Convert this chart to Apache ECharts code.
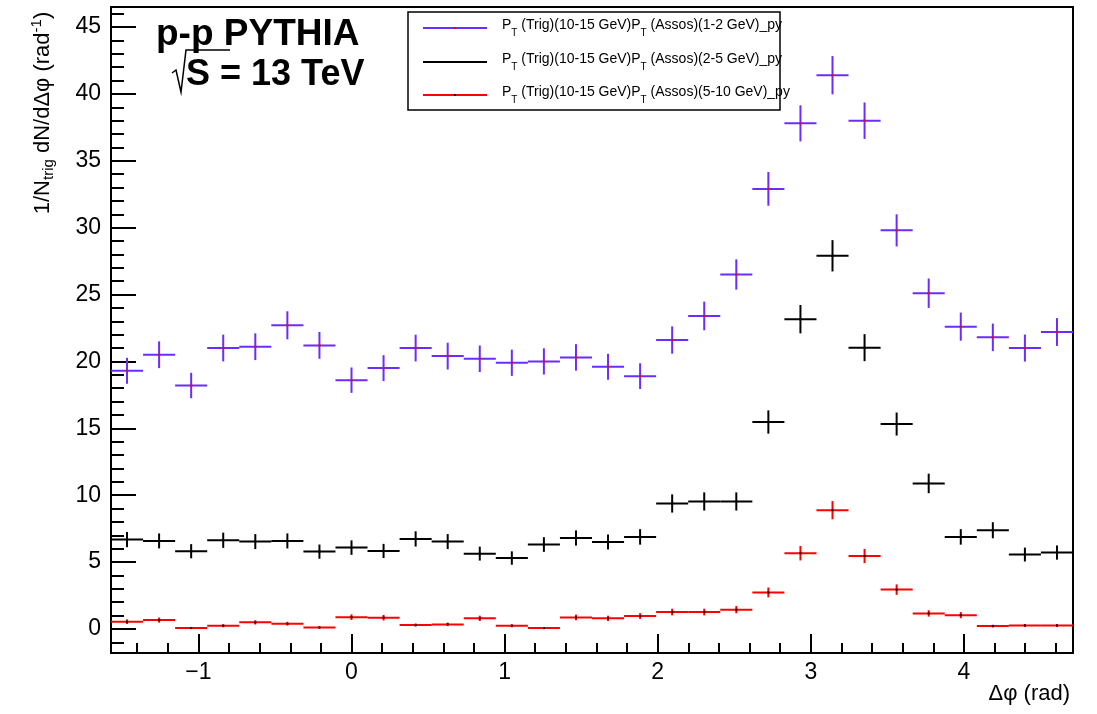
<!DOCTYPE html>
<html>
<head>
<meta charset="utf-8">
<title>Delta-phi correlation, p-p PYTHIA 13 TeV</title>
<script src="https://cdn.jsdelivr.net/npm/echarts@6/dist/echarts.min.js"></script>
<style>
  html, body { margin: 0; padding: 0; background: #ffffff; }
  #chart { width: 1097px; height: 714px; }
</style>
</head>
<body>
<div id="chart"></div>
<script>
// Bin centres of the 30 delta-phi bins spanning [-pi/2, 3pi/2]
const binCenters = [-1.4661, -1.2566, -1.0472, -0.8378, -0.6283, -0.4189, -0.2094, 0.0000,
  0.2094, 0.4189, 0.6283, 0.8378, 1.0472, 1.2566, 1.4661, 1.6755, 1.8850, 2.0944,
  2.3038, 2.5133, 2.7227, 2.9322, 3.1416, 3.3510, 3.5605, 3.7699, 3.9794, 4.1888,
  4.3982, 4.6077];
const binWidth = 0.20944;

// Associated pT 1-2 GeV
const assoc12 = [19.3, 20.5, 18.2, 21.0, 21.1, 22.7, 21.2, 18.6, 19.5, 21.0, 20.4, 20.2,
  19.9, 20.0, 20.3, 19.6, 18.9, 21.6, 23.4, 26.5, 32.9, 37.8, 41.4, 38.0, 29.8, 25.1,
  22.6, 21.8, 21.0, 22.2];
const assoc12Err = [0.97, 1.0, 0.95, 1.0, 1.0, 1.05, 1.0, 0.95, 0.97, 1.0, 1.0, 0.99,
  0.98, 0.98, 0.99, 0.97, 0.96, 1.02, 1.07, 1.13, 1.26, 1.35, 1.43, 1.36, 1.2, 1.1,
  1.05, 1.03, 1.01, 1.04];

// Associated pT 2-5 GeV
const assoc25 = [6.68, 6.58, 5.81, 6.63, 6.53, 6.58, 5.78, 6.08, 5.83, 6.73, 6.53, 5.63,
  5.30, 6.31, 6.80, 6.50, 6.88, 9.38, 9.53, 9.53, 15.47, 23.16, 27.9, 21.03, 15.32,
  10.88, 6.88, 7.38, 5.56, 5.71];
const assoc25Err = [0.57, 0.56, 0.53, 0.57, 0.56, 0.56, 0.53, 0.54, 0.53, 0.57, 0.56, 0.52,
  0.5, 0.55, 0.57, 0.56, 0.58, 0.68, 0.68, 0.68, 0.87, 1.06, 1.17, 1.01, 0.86, 0.73,
  0.58, 0.6, 0.52, 0.53];

// Associated pT 5-10 GeV
const assoc510 = [0.54, 0.66, 0.06, 0.24, 0.49, 0.39, 0.11, 0.88, 0.84, 0.29, 0.34, 0.79,
  0.24, 0.06, 0.86, 0.79, 0.96, 1.26, 1.26, 1.44, 2.73, 5.66, 8.88, 5.45, 2.94, 1.16,
  1.03, 0.21, 0.26, 0.26];
const assoc510Err = [0.17, 0.19, 0.06, 0.11, 0.16, 0.14, 0.08, 0.21, 0.21, 0.12, 0.13, 0.2,
  0.11, 0.06, 0.21, 0.2, 0.22, 0.25, 0.25, 0.27, 0.37, 0.54, 0.68, 0.53, 0.39, 0.24,
  0.23, 0.1, 0.11, 0.11];

// Axis ticks and labels
const xMajorTicks = [-1, 0, 1, 2, 3, 4];
const xMinorTicks = [];
for (let k = -7; k <= 23; k++) { if (k % 5 !== 0) xMinorTicks.push(+(k * 0.2).toFixed(1)); }
const yMajorTicks = [0, 5, 10, 15, 20, 25, 30, 35, 40, 45];
const yMinorTicks = [];
for (let k = -1; k <= 46; k++) { if (k % 5 !== 0) yMinorTicks.push(k); }

const xRange = [-Math.PI / 2, 3 * Math.PI / 2];
const yRange = [-1.8, 46.5];

const seriesDefs = [
  { name: 'PT(Trig)(10-15 GeV)PT(Assos)(1-2 GeV)_py', values: assoc12, errors: assoc12Err, color: '#6a2dff', dot: '#ff0000' },
  { name: 'PT(Trig)(10-15 GeV)PT(Assos)(2-5 GeV)_py', values: assoc25, errors: assoc25Err, color: '#000000', dot: '#000000' },
  { name: 'PT(Trig)(10-15 GeV)PT(Assos)(5-10 GeV)_py', values: assoc510, errors: assoc510Err, color: '#ff0000', dot: '#000000' }
];

const FONT = '"Liberation Sans", Arial, Helvetica, sans-serif';

function errorCross(color, dotColor) {
  return function (params, api) {
    const x = api.value(0), y = api.value(1), e = api.value(2);
    const l = api.coord([x - binWidth / 2, y]);
    const r = api.coord([x + binWidth / 2, y]);
    const t = api.coord([x, y + e]);
    const b = api.coord([x, y - e]);
    const c = api.coord([x, y]);
    return {
      type: 'group',
      children: [
        { type: 'line', shape: { x1: l[0], y1: l[1], x2: r[0], y2: r[1] }, style: { stroke: color, lineWidth: 2 } },
        { type: 'line', shape: { x1: t[0], y1: t[1], x2: b[0], y2: b[1] }, style: { stroke: color, lineWidth: 2 } },
        { type: 'rect', shape: { x: c[0] - 1, y: c[1] - 1, width: 2, height: 2 }, style: { fill: dotColor } }
      ]
    };
  };
}

const minus = v => (v < 0 ? '\u2212' + Math.abs(v) : String(v));

function xAxisDef(ticks, len, labels) {
  return {
    type: 'value', min: xRange[0], max: xRange[1], position: 'bottom',
    axisLine: { show: labels, onZero: false, lineStyle: { color: '#000', width: 2 } },
    axisTick: { show: true, inside: true, length: len, customValues: ticks, lineStyle: { color: '#000', width: 2 } },
    axisLabel: { show: labels, customValues: ticks, formatter: minus, color: '#000', fontSize: 23, fontFamily: FONT, margin: 8 },
    splitLine: { show: false }
  };
}
function yAxisDef(ticks, len, labels) {
  return {
    type: 'value', min: yRange[0], max: yRange[1], position: 'left',
    axisLine: { show: labels, onZero: false, lineStyle: { color: '#000', width: 2 } },
    axisTick: { show: true, inside: true, length: len, customValues: ticks, lineStyle: { color: '#000', width: 2 } },
    axisLabel: { show: labels, customValues: ticks, formatter: minus, color: '#000', fontSize: 23, fontFamily: FONT, margin: 10 },
    splitLine: { show: false }
  };
}

// Legend entries drawn in a boxed panel
const legendRows = [28, 62, 95];
const legendRanges = ['1-2 GeV', '2-5 GeV', '5-10 GeV'];
const legendGraphics = [
  { type: 'rect', shape: { x: 408, y: 12, width: 372, height: 98 }, style: { fill: '#fff', stroke: '#000', lineWidth: 1.5 }, z: 10 }
];
seriesDefs.forEach((s, i) => {
  const y = legendRows[i];
  legendGraphics.push(
    { type: 'line', shape: { x1: 423, y1: y, x2: 487, y2: y }, style: { stroke: s.color, lineWidth: 2 }, z: 11 },
    { type: 'rect', shape: { x: 454, y: y - 1, width: 2, height: 2 }, style: { fill: s.dot }, z: 12 },
    {
      type: 'text', x: 502, y: y, z: 11,
      style: {
        text: '{n|P}{s|T}{n| (Trig)(10-15 GeV)P}{s|T}{n| (Assos)(' + legendRanges[i] + ')_py}',
        verticalAlign: 'middle', align: 'left',
        rich: {
          n: { fontSize: 14, fontFamily: FONT, fill: '#000', verticalAlign: 'top' },
          s: { fontSize: 10, fontFamily: FONT, fill: '#000', verticalAlign: 'bottom', padding: [10, 0, 0, 0] }
        }
      }
    }
  );
});

const chart = echarts.init(document.getElementById('chart'), null, { renderer: 'canvas' });
chart.setOption({
  backgroundColor: '#ffffff',
  animation: false,
  grid: { left: 111, right: 24, top: 7, bottom: 61, show: true, borderColor: '#000', borderWidth: 2, backgroundColor: 'transparent' },
  xAxis: [xAxisDef(xMajorTicks, 19, true), xAxisDef(xMinorTicks, 10, false)],
  yAxis: [yAxisDef(yMajorTicks, 25, true), yAxisDef(yMinorTicks, 13, false)],
  series: seriesDefs.map(s => ({
    type: 'custom',
    name: s.name,
    xAxisIndex: 0, yAxisIndex: 0,
    renderItem: errorCross(s.color, s.dot),
    encode: { x: 0, y: 1 },
    data: binCenters.map((x, i) => [x, s.values[i], s.errors[i]]),
    z: 5
  })),
  graphic: [
    // Collision system label
    { type: 'text', x: 156, y: 35, style: { text: 'p-p PYTHIA', font: 'bold 37px ' + FONT, fill: '#000', verticalAlign: 'middle' } },
    { type: 'polyline', shape: { points: [[172, 73], [176, 70], [181, 92], [186, 50], [230, 50]] }, style: { stroke: '#000', lineWidth: 1.5, fill: null } },
    { type: 'text', x: 186, y: 75, style: { text: 'S = 13 TeV', font: 'bold 36px ' + FONT, fill: '#000', verticalAlign: 'middle' } },
    // Axis titles
    { type: 'text', x: 1070, y: 694, style: { text: '\u0394\u03c6 (rad)', font: '22px ' + FONT, fill: '#000', align: 'right', verticalAlign: 'middle' } },
    {
      type: 'text', x: 43, y: 113, rotation: Math.PI / 2,
      style: {
        text: '{m|1/N}{s|trig}{m| dN/d\u0394\u03c6 (rad}{p|-1}{m|)}',
        align: 'center', verticalAlign: 'middle',
        rich: {
          m: { fontSize: 22, fontFamily: FONT, fill: '#000', verticalAlign: 'middle' },
          s: { fontSize: 15, fontFamily: FONT, fill: '#000', verticalAlign: 'bottom', padding: [12, 0, 0, 0] },
          p: { fontSize: 15, fontFamily: FONT, fill: '#000', verticalAlign: 'top', padding: [0, 0, 12, 0] }
        }
      }
    }
  ].concat(legendGraphics)
});
</script>
</body>
</html>
